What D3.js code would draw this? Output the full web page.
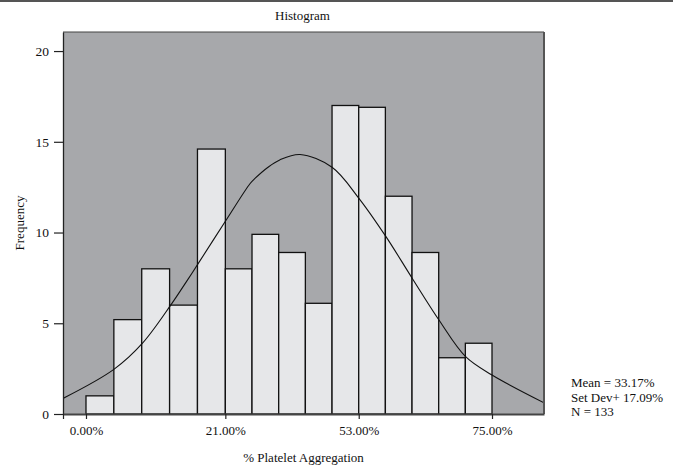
<!DOCTYPE html>
<html>
<head>
<meta charset="utf-8">
<script src="https://cdn.jsdelivr.net/npm/d3@7"></script>
<style>
  body { margin: 0; background: #fff; }
  text { font-family: "Liberation Serif", "Times New Roman", serif; fill: #111; }
</style>
</head>
<body>
<div id="container"></div>
<script>
// Histogram bins (index 0..14) and their frequencies
const binIndex = d3.range(15);
const frequencies = [1, 5.2, 8, 6, 14.6, 8, 9.9, 8.9, 6.1, 17, 16.9, 12, 8.9, 3.1, 3.9];

// x tick labels sit on bin edges 0, 5, 10, 15
const xTickEdges = [0, 5, 10, 15];
const xTickLabels = ["0.00%", "21.00%", "53.00%", "75.00%"];
const yTicks = [0, 5, 10, 15, 20];

// fitted normal curve (x in bin-edge units, y in frequency)
const curveX = [-0.85, 1.0, 2.02, 3.04, 3.64, 4.03, 4.99, 5.93, 6.11, 6.6, 7.04, 7.8, 9.0, 10.0, 11.01, 12.01, 13.01, 14.01, 15.0, 16.9];
const curveY = [0.86, 2.46, 3.89, 6.0, 7.38, 8.3, 10.59, 12.7, 12.98, 13.6, 14.0, 14.3, 13.6, 11.9, 9.8, 7.47, 5.18, 3.16, 2.15, 0.62];

const stats = ["Mean = 33.17%", "Set Dev+ 17.09%", "N = 133"];

const width = 673;
const height = 467;
const margin = { top: 32, right: 129, bottom: 53, left: 63 };
const plotW = width - margin.left - margin.right;

const svg = d3.create("svg")
  .attr("width", width)
  .attr("height", height)
  .attr("viewBox", [0, 0, width, height]);

svg.append("rect").attr("width", width).attr("height", height).attr("fill", "#fff");

// header rule
svg.append("line")
  .attr("x1", 0).attr("x2", width)
  .attr("y1", 1).attr("y2", 1)
  .attr("stroke", "#555").attr("stroke-width", 2);

// bin widths are slightly uneven in the original, so a piecewise scale
const xFrac = [0, 0.0478, 0.3375, 0.6148, 0.8919, 1];
const x = d3.scaleLinear()
  .domain([-0.85, 0, 5, 10, 15, 16.9])
  .range(xFrac.map((f) => margin.left + f * plotW));

const y = d3.scaleLinear()
  .domain([0, 21.05])
  .range([height - margin.bottom, margin.top]);

// plot background
svg.append("rect")
  .attr("x", x(-0.85)).attr("y", y(21.05))
  .attr("width", x(16.9) - x(-0.85))
  .attr("height", y(0) - y(21.05))
  .attr("fill", "#a7a8ab");

svg.append("clipPath").attr("id", "plot-clip")
  .append("rect")
  .attr("x", x(-0.85)).attr("y", y(21.05))
  .attr("width", x(16.9) - x(-0.85))
  .attr("height", y(0) - y(21.05));

// bars
svg.append("g")
  .selectAll("rect")
  .data(binIndex)
  .join("rect")
  .attr("x", (i) => x(i))
  .attr("y", (i) => y(frequencies[i]))
  .attr("width", (i) => x(i + 1) - x(i))
  .attr("height", (i) => y(0) - y(frequencies[i]))
  .attr("fill", "#e6e7e9")
  .attr("stroke", "#111")
  .attr("stroke-width", 1.3);

// normal curve
const line = d3.line()
  .x((d) => x(d[0]))
  .y((d) => y(d[1]))
  .curve(d3.curveCatmullRom);

svg.append("path")
  .datum(d3.zip(curveX, curveY))
  .attr("clip-path", "url(#plot-clip)")
  .attr("d", line)
  .attr("fill", "none")
  .attr("stroke", "#111")
  .attr("stroke-width", 1.1);

// frame: top and right edges
svg.append("line")
  .attr("x1", x(-0.85)).attr("x2", x(16.9))
  .attr("y1", y(21.05)).attr("y2", y(21.05))
  .attr("stroke", "#444").attr("stroke-width", 1.2);
svg.append("line")
  .attr("x1", x(16.9)).attr("x2", x(16.9))
  .attr("y1", y(21.05)).attr("y2", y(0))
  .attr("stroke", "#555").attr("stroke-width", 2);

// y axis
const yAxis = svg.append("g")
  .attr("transform", `translate(${margin.left},0)`)
  .call(d3.axisLeft(y).tickValues(yTicks).tickSize(9).tickPadding(5).tickSizeOuter(0));
yAxis.select(".domain").attr("stroke", "#222").attr("stroke-width", 1.3);
yAxis.selectAll(".tick line").attr("stroke", "#222").attr("stroke-width", 1.2);
yAxis.selectAll("text").attr("font-size", 13.5).attr("font-family", null);

// x axis
const xAxis = svg.append("g")
  .attr("transform", `translate(0,${y(0)})`)
  .call(d3.axisBottom(x)
    .tickValues([-0.85, ...xTickEdges])
    .tickFormat((d) => {
      const i = xTickEdges.indexOf(d);
      return i < 0 ? "" : xTickLabels[i];
    })
    .tickSize(5).tickPadding(7).tickSizeOuter(0));
xAxis.select(".domain").attr("stroke", "#444").attr("stroke-width", 2);
xAxis.selectAll(".tick line").attr("stroke", "#222").attr("stroke-width", 1.2);
xAxis.selectAll("text").attr("font-size", 13).attr("font-family", null);

// title
svg.append("text")
  .attr("x", margin.left + plotW / 2 - 1)
  .attr("y", 20)
  .attr("text-anchor", "middle")
  .attr("font-size", 13)
  .text("Histogram");

// axis titles
svg.append("text")
  .attr("x", margin.left + plotW / 2)
  .attr("y", 462)
  .attr("text-anchor", "middle")
  .attr("font-size", 13)
  .text("% Platelet Aggregation");

svg.append("text")
  .attr("transform", `translate(24,${(y(0) + y(21.05)) / 2}) rotate(-90)`)
  .attr("text-anchor", "middle")
  .attr("font-size", 13)
  .text("Frequency");

// stats box
svg.append("g")
  .selectAll("text")
  .data(stats)
  .join("text")
  .attr("x", 571)
  .attr("y", (d, i) => 387 + i * 14.6)
  .attr("font-size", 13)
  .text((d) => d);

document.getElementById("container").append(svg.node());
</script>
</body>
</html>
